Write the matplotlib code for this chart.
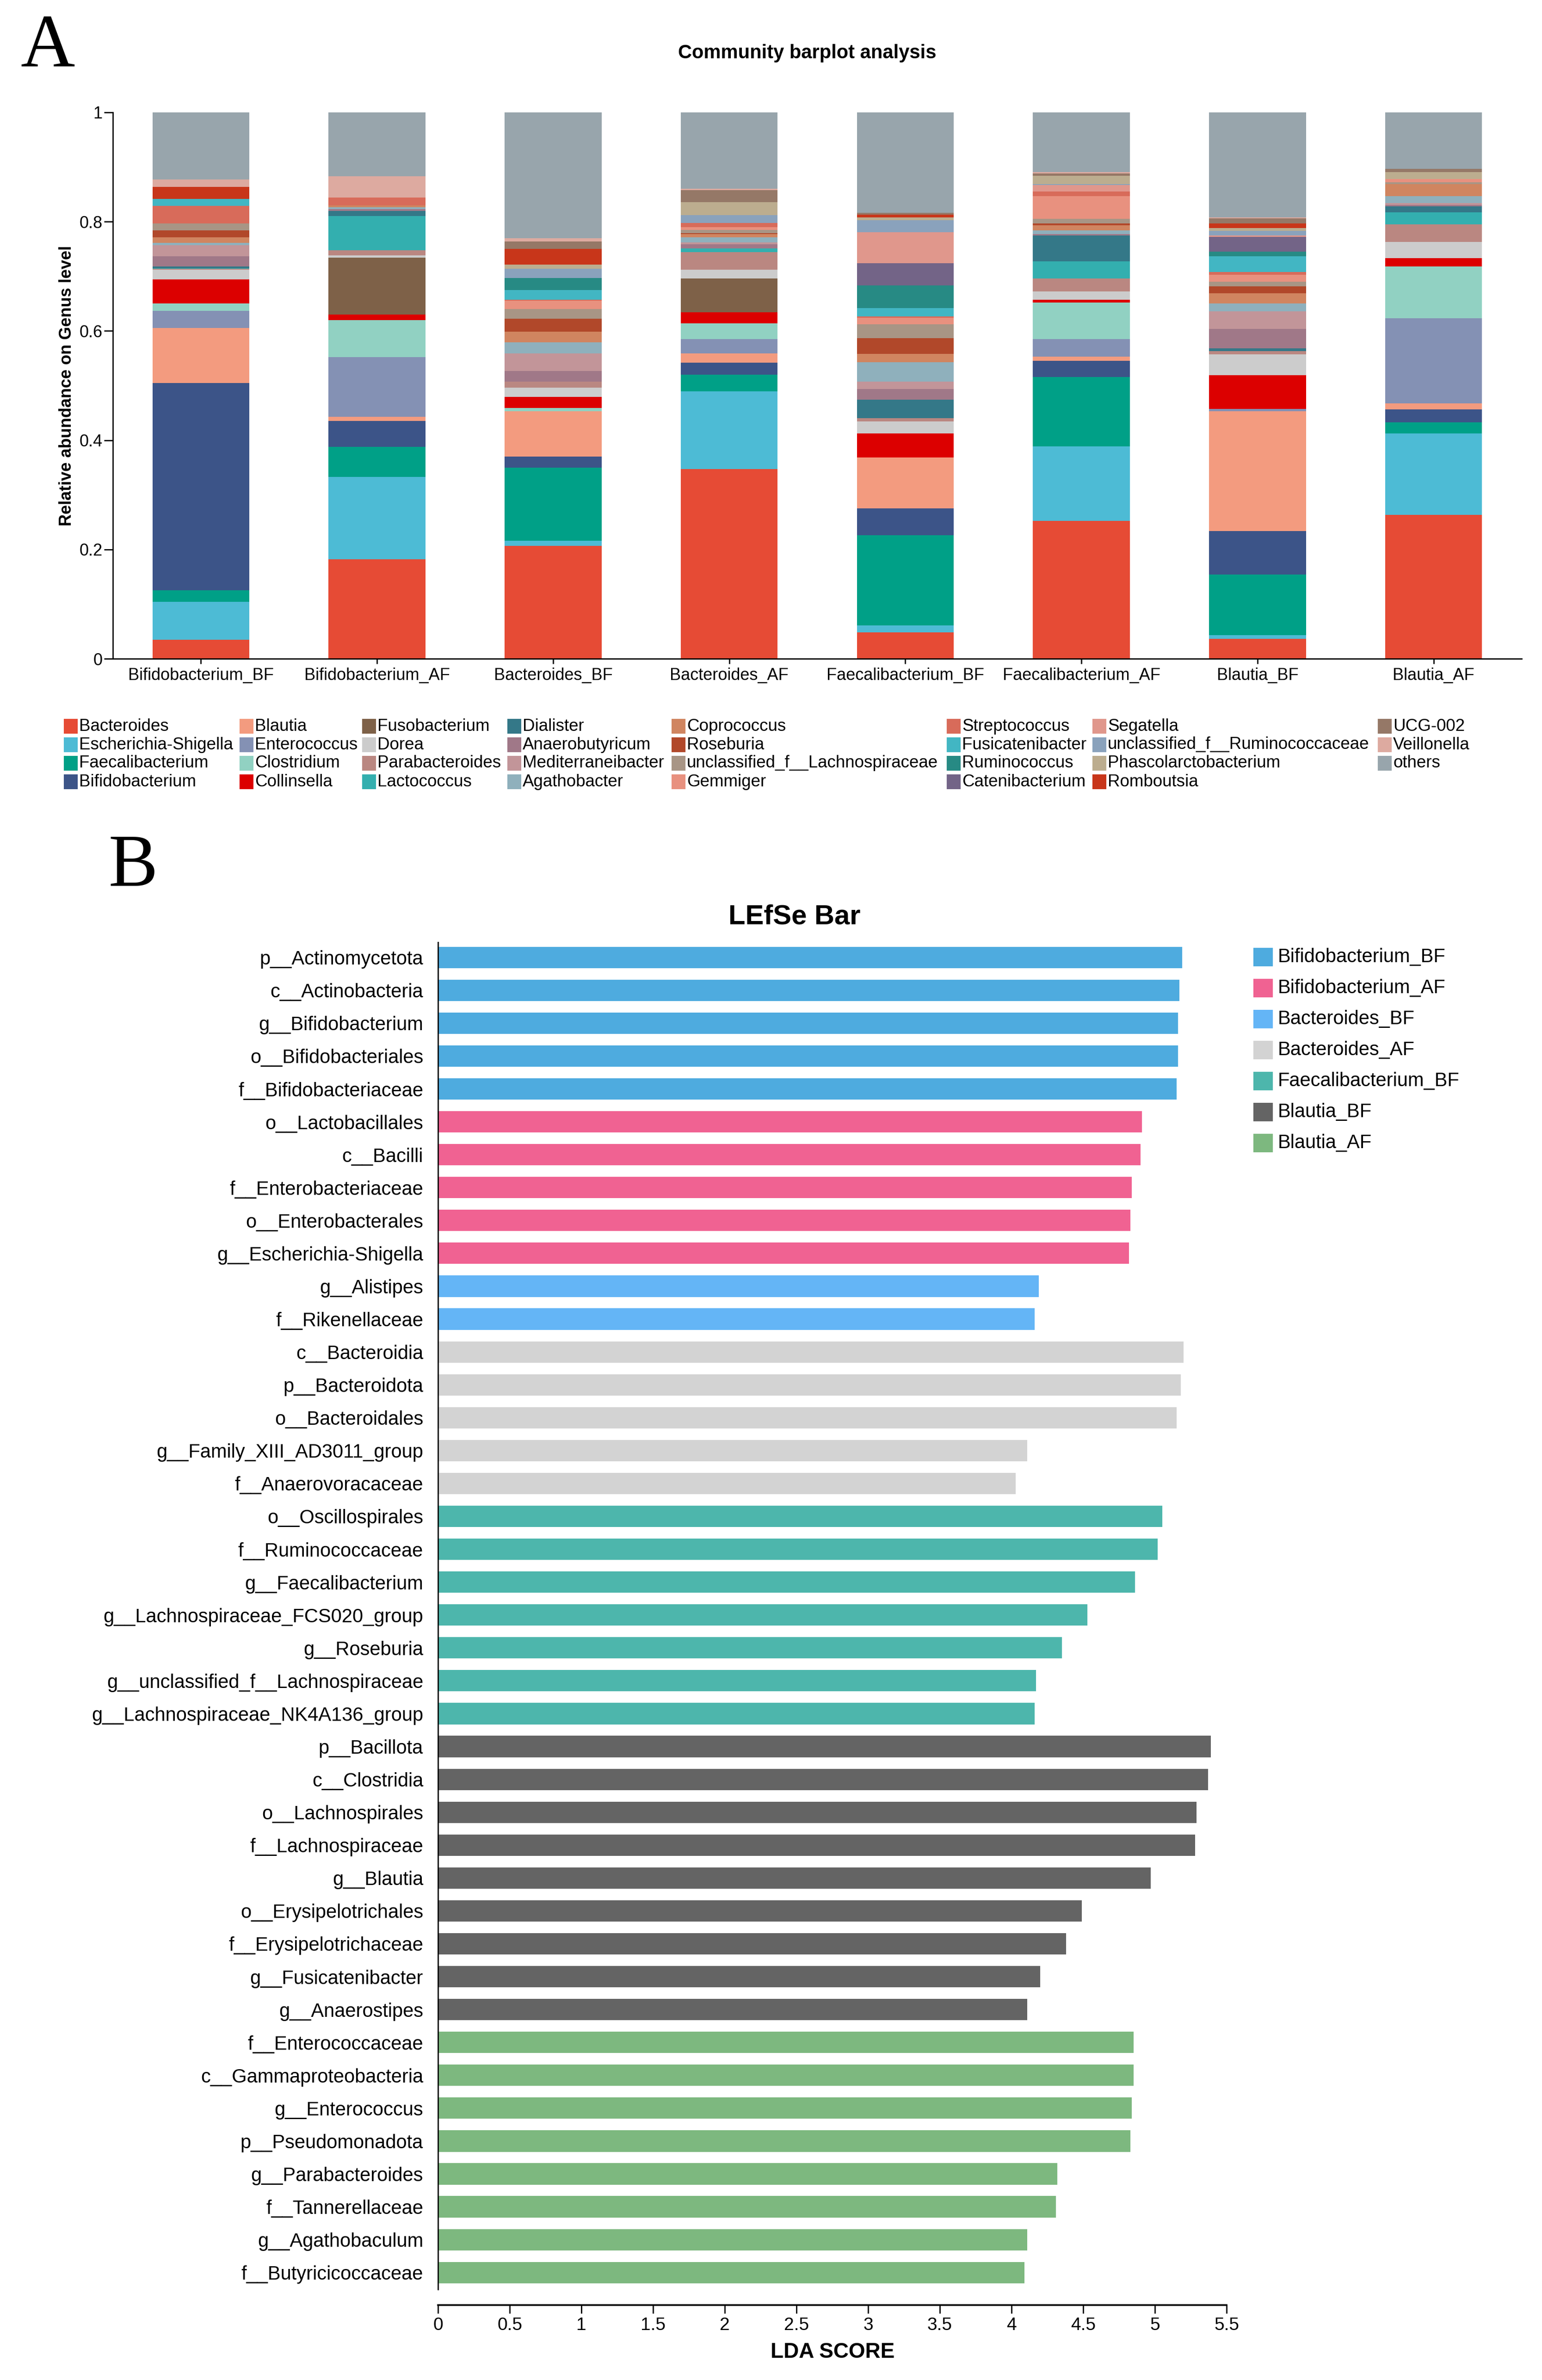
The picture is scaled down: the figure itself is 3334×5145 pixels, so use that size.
import numpy as np
import matplotlib.pyplot as plt
from matplotlib.patches import Rectangle

plt.rcParams['font.family'] = ['Liberation Sans', 'DejaVu Sans']

# canvas size in pixels
W, H = 3334, 5145
DPI = 100

# ---------------- panel A data ----------------
samples = ["Bifidobacterium_BF", "Bifidobacterium_AF", "Bacteroides_BF", "Bacteroides_AF",
           "Faecalibacterium_BF", "Faecalibacterium_AF", "Blautia_BF", "Blautia_AF"]

genera = ["Bacteroides", "Escherichia-Shigella", "Faecalibacterium", "Bifidobacterium",
          "Blautia", "Enterococcus", "Clostridium", "Collinsella",
          "Fusobacterium", "Dorea", "Parabacteroides", "Lactococcus",
          "Dialister", "Anaerobutyricum", "Mediterraneibacter", "Agathobacter",
          "Coprococcus", "Roseburia", "unclassified_f__Lachnospiraceae", "Gemmiger",
          "Streptococcus", "Fusicatenibacter", "Ruminococcus", "Catenibacterium",
          "Segatella", "unclassified_f__Ruminococcaceae", "Phascolarctobacterium", "Romboutsia",
          "UCG-002", "Veillonella", "others"]

genus_colors = ["#E64B35", "#4DBBD5", "#00A087", "#3C5488",
                "#F39B7F", "#8491B4", "#91D1C2", "#DC0000",
                "#7E6148", "#CCCCCC", "#BA8781", "#33AFAF",
                "#347888", "#A07888", "#C29599", "#8FB0BC",
                "#D08560", "#B1482A", "#A89585", "#E8917F",
                "#D86B5A", "#42B6C3", "#278A84", "#736487",
                "#E0978C", "#8AA2BC", "#BCAD8F", "#C8361A",
                "#957867", "#DDAAA0", "#98A5AC"]

# relative abundance per sample, in genus order above
bifido_bf = [0.035, 0.069, 0.021, 0.380, 0.100, 0.032, 0.013, 0.044, 0.0, 0.018, 0.002, 0.001,
             0.003, 0.019, 0.020, 0.004, 0.010, 0.013, 0.013, 0.0, 0.032, 0.013, 0.0, 0.0,
             0.0, 0.0, 0.0, 0.022, 0.0, 0.013, 0.123]
bifido_af = [0.182, 0.151, 0.055, 0.047, 0.008, 0.109, 0.068, 0.010, 0.104, 0.004, 0.010, 0.062,
             0.010, 0.003, 0.0, 0.003, 0.004, 0.0, 0.0, 0.0, 0.014, 0.0, 0.0, 0.0,
             0.0, 0.0, 0.0, 0.0, 0.0, 0.039, 0.117]
bact_bf = [0.207, 0.009, 0.134, 0.020, 0.083, 0.0, 0.006, 0.020, 0.0, 0.017, 0.011, 0.0,
           0.0, 0.020, 0.032, 0.020, 0.020, 0.023, 0.018, 0.015, 0.002, 0.018, 0.022, 0.0,
           0.0, 0.017, 0.007, 0.029, 0.014, 0.006, 0.230]
bact_af = [0.347, 0.142, 0.031, 0.022, 0.017, 0.026, 0.029, 0.020, 0.062, 0.016, 0.032, 0.007,
           0.0, 0.008, 0.003, 0.009, 0.006, 0.002, 0.006, 0.005, 0.008, 0.0, 0.0, 0.0,
           0.0, 0.014, 0.024, 0.0, 0.022, 0.002, 0.140]
faec_bf = [0.048, 0.013, 0.165, 0.049, 0.093, 0.0, 0.0, 0.044, 0.0, 0.022, 0.006, 0.0,
           0.034, 0.020, 0.013, 0.036, 0.015, 0.029, 0.025, 0.012, 0.003, 0.015, 0.041, 0.041,
           0.057, 0.022, 0.005, 0.005, 0.003, 0.0, 0.184]
faec_af = [0.252, 0.137, 0.127, 0.029, 0.008, 0.032, 0.067, 0.005, 0.0, 0.015, 0.024, 0.031,
           0.048, 0.002, 0.0, 0.007, 0.009, 0.004, 0.008, 0.042, 0.008, 0.0, 0.0, 0.0,
           0.012, 0.002, 0.015, 0.0, 0.004, 0.003, 0.109]
blau_bf = [0.036, 0.007, 0.111, 0.080, 0.219, 0.004, 0.0, 0.062, 0.0, 0.038, 0.006, 0.0,
           0.005, 0.036, 0.032, 0.014, 0.019, 0.013, 0.008, 0.013, 0.005, 0.029, 0.008, 0.027,
           0.003, 0.008, 0.005, 0.009, 0.009, 0.002, 0.192]
blau_af = [0.263, 0.149, 0.021, 0.023, 0.011, 0.156, 0.095, 0.015, 0.0, 0.030, 0.032, 0.022,
           0.011, 0.003, 0.003, 0.013, 0.022, 0.0, 0.003, 0.006, 0.0, 0.0, 0.0, 0.0,
           0.0, 0.0, 0.013, 0.0, 0.006, 0.0, 0.103]

# ---------------- panel B data ----------------
features = ["p__Actinomycetota", "c__Actinobacteria", "g__Bifidobacterium", "o__Bifidobacteriales",
            "f__Bifidobacteriaceae", "o__Lactobacillales", "c__Bacilli", "f__Enterobacteriaceae",
            "o__Enterobacterales", "g__Escherichia-Shigella", "g__Alistipes", "f__Rikenellaceae",
            "c__Bacteroidia", "p__Bacteroidota", "o__Bacteroidales", "g__Family_XIII_AD3011_group",
            "f__Anaerovoracaceae", "o__Oscillospirales", "f__Ruminococcaceae", "g__Faecalibacterium",
            "g__Lachnospiraceae_FCS020_group", "g__Roseburia", "g__unclassified_f__Lachnospiraceae",
            "g__Lachnospiraceae_NK4A136_group", "p__Bacillota", "c__Clostridia", "o__Lachnospirales",
            "f__Lachnospiraceae", "g__Blautia", "o__Erysipelotrichales", "f__Erysipelotrichaceae",
            "g__Fusicatenibacter", "g__Anaerostipes", "f__Enterococcaceae", "c__Gammaproteobacteria",
            "g__Enterococcus", "p__Pseudomonadota", "g__Parabacteroides", "f__Tannerellaceae",
            "g__Agathobaculum", "f__Butyricicoccaceae"]
lda = [5.19, 5.17, 5.16, 5.16, 5.15, 4.91, 4.90, 4.84, 4.83, 4.82, 4.19, 4.16,
       5.20, 5.18, 5.15, 4.11, 4.03, 5.05, 5.02, 4.86, 4.53, 4.35, 4.17, 4.16,
       5.39, 5.37, 5.29, 5.28, 4.97, 4.49, 4.38, 4.20, 4.11,
       4.85, 4.85, 4.84, 4.83, 4.32, 4.31, 4.11, 4.09]
feat_group = (["Bifidobacterium_BF"] * 5 + ["Bifidobacterium_AF"] * 5 + ["Bacteroides_BF"] * 2 +
              ["Bacteroides_AF"] * 5 + ["Faecalibacterium_BF"] * 7 + ["Blautia_BF"] * 9 +
              ["Blautia_AF"] * 8)
groups = ["Bifidobacterium_BF", "Bifidobacterium_AF", "Bacteroides_BF", "Bacteroides_AF",
          "Faecalibacterium_BF", "Blautia_BF", "Blautia_AF"]
group_colors = ["#4EABDF", "#F06292", "#64B5F6", "#D3D3D3", "#4DB6AC", "#646464", "#7DB87F"]


def fx(px):
    return px / W


def fy(py):
    return 1 - py / H


fig = plt.figure(figsize=(W / DPI, H / DPI), dpi=DPI)

# ---------- A: stacked community barplot ----------
ax1 = fig.add_axes([fx(244), fy(1424), (3290 - 244) / W, (1424 - 243) / H])
abund = np.array([bifido_bf, bifido_af, bact_bf, bact_af, faec_bf, faec_af, blau_bf, blau_af]).T
xpos = np.arange(len(samples))
base = np.zeros(len(samples))
for g in range(len(genera)):
    ax1.bar(xpos, abund[g], 0.55, bottom=base, color=genus_colors[g], linewidth=0)
    base += abund[g]
ax1.set_xlim(-0.5, 7.5)
ax1.set_ylim(0, 1)
ax1.set_xticks(xpos)
ax1.set_xticklabels(samples, fontsize=26)
ax1.set_yticks([0, 0.2, 0.4, 0.6, 0.8, 1])
ax1.set_yticklabels(["0", "0.2", "0.4", "0.6", "0.8", "1"], fontsize=26)
for s in ["top", "right"]:
    ax1.spines[s].set_visible(False)
for s in ["left", "bottom"]:
    ax1.spines[s].set_linewidth(2)
ax1.tick_params(axis="y", length=14, width=2, pad=2)
ax1.tick_params(axis="x", length=8, width=2, pad=6)
fig.text(fx(145), fy((1424 + 243) / 2), "Relative abundance on Genus level", rotation=90,
         ha="center", va="center", fontsize=26, fontweight="bold")
fig.text(fx(1745), fy(126), "Community barplot analysis", ha="center", va="baseline",
         fontsize=30, fontweight="bold")

# legend for genera (4 rows, filled column by column)
col_x = [138, 518, 783, 1097, 1452, 2047, 2362, 2979]
for i, name in enumerate(genera):
    c, r = i // 4, i % 4
    yc = 1570 + 40 * r
    fig.patches.append(Rectangle((fx(col_x[c]), fy(yc + 16)), 30 / W, 32 / H,
                                 transform=fig.transFigure, color=genus_colors[i], lw=0))
    fig.text(fx(col_x[c] + 33), fy(yc), name, ha="left", va="center", fontsize=26.5)

# ---------- B: LEfSe bar ----------
ax2 = fig.add_axes([fx(947), fy(4949), (2652 - 947) / W, (4949 - 2037) / H])
# detached x axis (set before ticks, it resets them)
ax2.spines["bottom"].set_position(("outward", 24.5))
for s in ["top", "right"]:
    ax2.spines[s].set_visible(False)
ax2.spines["left"].set_linewidth(2)
ax2.spines["bottom"].set_linewidth(2.6)
ypos = np.arange(len(features))
bar_cols = [group_colors[groups.index(g)] for g in feat_group]
ax2.barh(ypos, lda, height=0.65, color=bar_cols, linewidth=0)
ax2.set_xlim(0, 5.5)
ax2.set_ylim(len(features) - 0.49, -0.46)
ax2.set_yticks(ypos)
ax2.set_yticklabels(features, fontsize=30)
ticks = np.arange(0, 5.51, 0.5)
ax2.set_xticks(ticks)
ax2.set_xticklabels([f"{t:g}" for t in ticks], fontsize=28)
ax2.tick_params(axis="y", length=0, pad=23)
ax2.tick_params(axis="x", length=13, width=2, pad=6)
fig.text(fx(1800), fy(5085), "LDA SCORE", ha="center", va="center", fontsize=33, fontweight="bold")
fig.text(fx(1718), fy(1998), "LEfSe Bar", ha="center", va="baseline", fontsize=43, fontweight="bold")

# legend for groups
for i, (g, c) in enumerate(zip(groups, group_colors)):
    yc = 2069 + 67 * i
    fig.patches.append(Rectangle((fx(2710), fy(yc + 20)), 42 / W, 40 / H,
                                 transform=fig.transFigure, color=c, lw=0))
    fig.text(fx(2763), fy(yc), g, ha="left", va="center", fontsize=30)

# panel letters
fig.text(fx(44), fy(144), "A", family="Liberation Serif", fontsize=117, va="baseline", ha="left")
fig.text(fx(234), fy(1915), "B", family="Liberation Serif", fontsize=115, va="baseline", ha="left")

fig.savefig("out.png", dpi=DPI)
